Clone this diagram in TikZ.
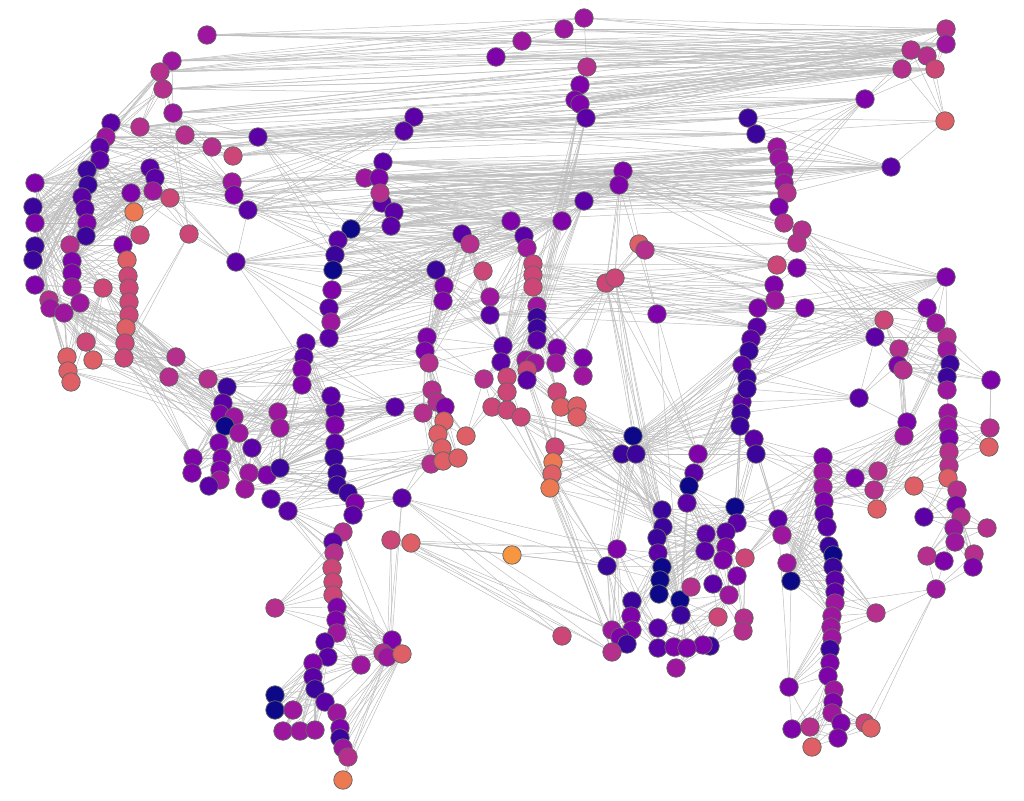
\documentclass[tikz,border=0pt]{standalone}
\usetikzlibrary{backgrounds}
\definecolor{pA}{HTML}{0D0887}
\definecolor{pB}{HTML}{3B049A}
\definecolor{pC}{HTML}{5C01A6}
\definecolor{pD}{HTML}{7E03A8}
\definecolor{pE}{HTML}{9C179E}
\definecolor{pF}{HTML}{B52F8C}
\definecolor{pG}{HTML}{CC4778}
\definecolor{pH}{HTML}{DE5F65}
\definecolor{pI}{HTML}{ED7953}
\definecolor{pJ}{HTML}{F89540}
\newcommand\EdgesX[2]{\foreach \a in {#1}{\foreach \b in {#2}{\draw[ed] (\a)--(\b);}}}
\newcommand\ChainE[1]{\foreach \a/\b in {#1}{\draw[ed] (\a)--(\b);}}
\tikzset{nd/.style={circle,draw=black!60,line width=0.75pt,minimum size=18.5pt,inner sep=0pt},
ed/.style={draw=black!26,line width=0.5pt}}
\begin{document}
\begin{tikzpicture}[x=1pt,y=-1pt]
\useasboundingbox (0,0) rectangle (1024,800);
\foreach \n/\x/\y/\c in {
t1/207/35/E, t2/584/18/E, t3/564/29/E, t4/522/41/E, t5/496/57/D, t6/587/67/F, t7/580/85/D, t8/575/100/D, t9/580/104/D, t10/586/118/C, t11/946/29/F, t12/946/44/E, t13/911/50/F, t14/927/56/F, t15/902/69/F, t16/935/69/G, t17/865/99/D, t18/945/121/H, t19/891/167/C,
l1/172/61/E, l2/160/72/F, l3/163/89/F, l4/173/113/E, l5/140/127/F, l6/111/123/C, l7/106/137/E, l8/100/147/C, l9/100/160/C, l10/87/170/B, l11/88/185/B, l12/82/197/C, l13/85/209/C, l14/87/223/D, l15/86/236/B, l16/35/183/D, l17/33/207/B, l18/35/223/D, l19/35/246/B, l20/33/260/B, l21/35/285/D, l22/70/245/F, l23/72/261/D, l24/72/273/D, l25/72/287/E, l26/49/300/F, l27/50/308/E, l28/64/313/E, l29/80/303/E, l30/103/288/G, l31/86/342/G, l32/67/357/H, l33/68/371/H, l34/71/382/H, l35/93/360/H, l36/185/135/F, l37/212/147/F, l38/233/156/G, l39/258/137/C, l40/232/182/E, l41/234/195/D, l42/248/210/C, l43/150/168/C, l44/155/178/C, l45/153/191/E, l46/170/198/G, l47/131/193/D, l48/134/212/I, l49/140/235/G, l50/189/234/G, l51/123/245/D, l52/127/260/H, l53/128/276/G, l54/129/288/G, l55/129/302/G, l56/129/315/G, l57/126/328/H, l58/125/343/G, l59/124/358/G, l60/176/357/F, l61/169/377/F, l62/208/379/F, l63/227/387/B, l64/236/262/C,
m1/414/117/C, m2/404/131/C, m3/383/162/C, m4/365/178/E, m5/379/178/D, m7/382/203/C, m6/380/193/F, m8/394/212/C, m9/391/226/C, m10/351/229/A, m11/338/240/C, m12/335/255/B, m13/333/270/A, m14/332/290/D, m15/329/308/C, m16/331/322/E, m17/329/338/C, m18/306/343/C, m19/304/357/C, m20/302/369/D, m21/302/385/D,
s1/223/403/C, s2/220/414/D, s3/234/417/E, s4/225/426/A, s5/239/433/E, s6/219/443/D, s7/252/448/C, s8/222/458/D, s9/193/458/D, s10/192/473/D, s11/220/470/D, s12/220/480/E, s13/209/486/C, s14/249/473/E, s15/245/489/E, s16/267/475/D, s17/280/468/B, s18/271/499/C, s19/288/511/C, s20/278/412/E, s21/280/428/E, s22/335/410/C, s23/335/425/D, s24/335/443/C, s25/334/458/B, s26/337/473/B, s27/337/485/B, s28/348/493/B, s30/355/503/D, s31/353/515/C, s32/343/532/F, s33/333/542/C, s34/334/553/F, s35/332/568/G, s36/333/582/G, s37/333/595/G, s38/337/607/D, s39/336/620/D, s40/337/633/E, s41/275/608/F, s42/325/642/C, s43/328/657/C, s44/313/663/D, s45/313/677/C, s46/315/689/B, s47/325/702/C, s48/337/713/E, s49/340/728/D, s50/340/738/B, s51/343/748/E, s52/348/757/F, s53/343/780/I, s54/275/695/A, s55/275/710/A, s56/293/710/E, s57/283/731/E, s58/300/731/E, s59/315/730/E, s60/392/640/D, s61/383/653/F, s62/387/657/E, s63/402/654/H, s64/361/665/E, s65/331/396/C, s66/402/498/C, s67/391/540/G, s68/411/543/H, s69/395/407/C,
c1/462/234/C, c2/470/244/F, c3/483/271/G, c4/436/270/B, c5/444/286/D, c6/443/301/D, c7/511/221/D, c8/524/236/C, c9/527/248/E, c10/533/264/G, c11/533/275/G, c12/533/287/G, c13/490/297/E, c14/490/315/C, c15/537/306/E, c16/537/317/B, c17/537/328/B, c18/537/340/C, c19/562/221/D, c20/584/201/C, c21/623/171/D, c22/619/185/D, c23/639/244/H, c24/645/250/F, c25/606/283/G, c26/615/278/G, c27/657/314/D, c28/427/337/D, c29/425/351/D, c30/429/363/F, c31/503/346/C, c32/501/362/C, c33/526/360/E, c34/535/363/E, c35/557/348/D, c36/556/363/E, c37/583/358/D, c38/583/376/E, c39/484/379/F, c40/507/377/G, c41/507/392/G, c42/527/370/G, c43/527/380/C, c44/557/392/G, c45/432/390/F, c46/437/402/F, c47/445/407/D, c48/423/413/F, c49/444/421/H, c50/438/434/H, c51/466/436/H, c52/442/448/H, c53/431/464/F, c54/443/461/H, c55/458/458/H, c56/492/407/G, c57/507/410/G, c58/521/417/G, c59/561/407/H, c60/577/406/H, c61/577/417/H, c62/555/447/G, c63/553/462/I, c64/552/474/H, c65/550/488/I, c66/512/555/J, c67/562/636/G,
r1/633/436/A, r2/622/454/B, r3/636/454/B, r4/698/454/D, r5/694/473/C, r6/689/486/A, r7/687/503/C, r8/662/510/B, r9/663/527/B, r10/657/538/B, r11/658/553/C, r12/662/567/A, r13/660/580/A, r14/659/594/A, r15/617/549/D, r16/607/566/B, r17/632/601/B, r18/631/616/D, r19/632/630/D, r20/612/630/E, r21/620/637/D, r22/627/644/B, r23/612/652/F, r24/658/628/C, r25/658/648/C, r26/674/647/D, r27/676/668/E, r28/680/600/A, r29/681/615/B, r30/735/507/A, r31/737/523/C, r32/706/534/C, r33/726/532/C, r34/705/551/C, r35/726/547/D, r36/723/560/D, r37/745/558/G, r38/737/576/D, r39/713/584/C, r40/691/587/F, r41/729/595/E, r42/718/617/G, r43/744/618/F, r44/743/631/F, r45/710/646/B, r46/703/645/D, r47/687/648/D, r49/742/402/C, r50/741/413/B, r51/740/426/B, r52/754/439/C, r53/756/454/B,
u1/748/118/B, u2/756/134/B, u3/777/147/E, u4/779/158/E, u5/784/171/E, u6/784/183/E, u7/787/193/F, u8/779/207/D, u9/784/223/F, u10/802/230/F, u11/797/243/F, u12/777/265/G, u13/797/268/D, u14/774/285/D, u15/775/300/E, u16/805/308/D, u17/758/308/D, u18/757/327/C, u19/751/339/C, u20/749/351/B, u21/742/365/C, u22/747/378/B, u23/747/389/B, u24/946/277/D, u25/859/398/C,
f1/927/308/D, f2/884/320/G, f3/875/337/C, f4/936/323/E, f5/947/337/F, f6/947/350/E, f7/899/349/F, f8/898/365/D, f9/903/370/F, f10/950/364/B, f11/947/377/B, f12/991/380/D, f13/947/390/E, f14/907/422/D, f15/904/436/E, f16/948/413/E, f17/948/425/E, f18/949/438/D, f19/949/452/F, f20/949/466/F, f21/948/478/H, f22/957/490/F, f23/956/505/D, f24/961/517/F, f25/954/528/E, f26/955/542/E, f27/990/428/F, f28/989/447/H, f29/914/486/H, f30/924/517/C, f31/987/528/F, f32/927/556/F, f33/944/561/D, f34/974/554/F, f35/973/567/D, f36/936/589/E, f37/878/471/F, f38/874/490/F, f39/877/509/H, f40/855/478/D,
v1/823/457/D, v2/823/472/E, v3/823/487/E, v4/824/501/D, v5/824/514/C, v6/827/527/C, v7/778/519/C, v8/782/535/E, v9/829/546/B, v10/833/555/A, v11/833/567/B, v12/835/580/C, v13/835/592/C, v14/787/563/E, v15/791/581/A, v16/835/603/E, v17/832/616/E, v18/831/627/E, v19/832/638/E, v20/830/649/B, v21/830/663/D, v22/828/676/D, v23/834/690/E, v24/833/702/D, v25/832/713/E, v26/841/723/D, v27/838/738/D, v28/876/613/F, v29/789/687/D, v30/792/729/D, v31/810/727/F, v32/812/747/H, v33/865/723/G, v34/871/728/H}
{\node[nd,fill=p\c] (\n) at (\x,\y) {};}
\begin{scope}[on background layer]
% top band
\EdgesX{t1,l1,l2}{t2,t3,t4,t11,t12,t13,t14}
\EdgesX{l3,l4,l5}{t11,t13,t15,t16,t6,t17}
\EdgesX{t4,t5,t6,t7,t8,t9,t10}{t11,t12,t13,t14,t15,t16}
\EdgesX{t2,t3}{t11,t12,t13}
\EdgesX{t18}{t13,t14,t15,t16,t19}
\EdgesX{t17}{t15,t16,t13}
\EdgesX{t11,t12}{t13,t14,t15,t16}
\ChainE{t2/t3,t3/t4,t4/t5,t2/t6,t6/t7,t7/t8,t8/t9,t9/t10}
\EdgesX{m1,m2}{t17,t15,u1,u2,t19,t13}
\EdgesX{l39,l38,l37,l36}{m1,m2,t17,u1,u2,t10,t8}
\EdgesX{l40,l41,l42}{m1,m2,m3,m4,m5,u3,u4,u5,t19}
\EdgesX{m3,m4,m5,m6,m7,m8,m9}{u3,u4,u5,u6,u7,u8,t19,c21,c22}
% left cluster
\EdgesX{l4,l5,l6,l7,l8}{l36,l37,l38,l39,l40,l41}
\EdgesX{l1,l2,l3}{l6,l7,l8,l5,l4}
\EdgesX{l6,l7,l8,l9,l10,l11,l12,l13,l14,l15}{l16,l17,l18,l19,l20,l21,l22,l23,l24}
\EdgesX{l43,l44,l45,l46,l47,l48,l49}{l9,l10,l11,l12,l13,l14,l15,l22,l23,l51}
\EdgesX{l16,l17,l18,l19,l20,l21}{l25,l26,l27,l28,l29,l30}
\EdgesX{l22,l23,l24,l25}{l51,l52,l53,l54,l55}
\EdgesX{l26,l27,l28,l29,l30}{l31,l32,l33,l34,l35,l56,l57,l58}
\EdgesX{l45,l46}{l50}
\EdgesX{l50}{l4,l3,l64,l58,l59}
\ChainE{l51/l52,l52/l53,l53/l54,l54/l55,l55/l56,l56/l57,l57/l58,l58/l59}
\EdgesX{l56,l57,l58,l59}{l60,l61,l62,l63,s1,s9}
\EdgesX{l40,l41,l42,l64}{l43,l44,l45,l47}
\EdgesX{l16,l17,l18}{l40,l41,l43,l44,l36,l37}
\EdgesX{l21,l25,l26,l30}{s1,s2,s6,l60,l61}
\EdgesX{l64}{m10,m11,m12,m13,m14,m15,m16,m17,c4,c5,c1,c8,s22,l42}
\EdgesX{l42,l41,l39}{m10,m11,m12,c7,c8,c19}
\EdgesX{l61,l62,l63}{s2,s3,s4,s5,s20,s21,m18,m19,m20,m21}
\EdgesX{l31,l35,l33}{s1,s2,s4,l60}
% middle column
\ChainE{m1/m2,m2/m3,m3/m4,m3/m5,m5/m6,m6/m7,m7/m8,m8/m9,m9/m10,m10/m11,m11/m12,m12/m13,m13/m14,m14/m15,m15/m16,m16/m17,m17/m18,m18/m19,m19/m20,m20/m21,m21/s65}
\EdgesX{m10,m11,m12,m13,m14,m15,m16,m17}{c1,c2,c4,c5,c6,c7,c8,c9,c19}
\EdgesX{m18,m19,m20,m21}{s6,s7,s8,s17,s22,s23,s24,s69,c28,c29,c30,c13,c14}
\EdgesX{m6,m7,m8,m9}{m10,m11,m12,c1,c7,c19,c20}
% center
\EdgesX{c7,c8,c19,c20}{c21,c22,c1,c2,c9,c10}
\EdgesX{c20,t10,t9}{c15,c16,c17,c18,c12}
\EdgesX{c21,c22}{u8,u9,u10,u11,u12,c25,c26,c27}
\EdgesX{c23,c24}{u12,u13,u14,u15,u24,u11,c25,c26}
\EdgesX{c25,c26}{c33,c35,c37,r1,r8,r9,r12,r4}
\EdgesX{c27}{u16,u17,u18,u24,f1,r4,r28}
\EdgesX{c10,c11,c12,c13,c14}{u12,u14,u15,u17,u18}
\EdgesX{c1,c2,c3,c4,c5,c6}{c13,c14,c28,c29,c30,c31}
\EdgesX{c8,c9,c10,c11,c12}{c13,c14,c15,c16,c31,c32}
\ChainE{c7/c8,c8/c9,c9/c10,c10/c11,c11/c12,c12/c15,c15/c16,c16/c17,c17/c18,c1/c2,c2/c3,c4/c5,c5/c6,c28/c29,c29/c30,c13/c14,c62/c63,c63/c64,c64/c65}
\EdgesX{c15,c16,c17,c18}{c31,c32,c33,c34,c35,c36,c37,c38,c39,c40,c41,c42,c43,c44}
\EdgesX{c28,c29,c30}{c45,c46,c47,c48,c39,c31}
\EdgesX{c45,c46,c47,c48}{c49,c50,c51,c52,c53,c54,c55}
\EdgesX{c39,c40,c41}{c56,c57,c58,c51}
\EdgesX{c42,c43,c44}{c59,c60,c61,c62,c63}
\EdgesX{c59,c60,c61,c62,c63,c64,c65}{r1,r2,r3,r8,r9}
\EdgesX{c56,c57,c58}{r1,r2,r8,c65}
\EdgesX{c58,c64,c65}{r20,r23,r16}
\EdgesX{s66,s67,s68}{r15,r16,r20,r23,c67}
\EdgesX{s66}{c53,c49,s28,s30,s31}
\EdgesX{c53,c52,c54}{s25,s26,s27,s28}
\EdgesX{c66}{s68,r15}
% lower left cluster
\EdgesX{s1,s2,s3,s4,s5,s6,s7,s8}{s9,s10,s11,s12,s13,s14,s15,s16}
\EdgesX{s20,s21,s22,s23,s24,s65,s69}{s1,s3,s5,s7,s16,s17,s14}
\EdgesX{s25,s26,s27,s28}{s14,s15,s16,s17,s18,s19}
\ChainE{s65/s22,s22/s23,s23/s24,s24/s25,s25/s26,s26/s27,s27/s28,s28/s30,s30/s31,s31/s32,s32/s33,s33/s34,s34/s35,s35/s36,s36/s37,s37/s38,s38/s39,s39/s40,s40/s42,s42/s43,s43/s44,s44/s45,s45/s46,s46/s47,s47/s48,s48/s49,s49/s50,s50/s51,s51/s52,s52/s53}
\EdgesX{s18,s19}{s32,s33,s34,s35,s66}
\EdgesX{s41}{s33,s34,s35,s36,s37,s38,s39,s40}
\EdgesX{s36,s37,s38,s39,s40}{s60,s61,s62,s63,s64}
\EdgesX{s42,s43,s44,s45,s46,s47}{s54,s55,s56,s57,s58,s59,s64,s61}
\EdgesX{s62,s63}{s48,s49,s50,s51,s52,s53}
\EdgesX{s60,s62}{s66,s67,s32}
\EdgesX{s20,s21,s17}{c45,c46,c47,c48,s69}
% right-center cluster
\ChainE{u1/u2,u2/u3,u3/u4,u4/u5,u5/u6,u6/u7,u7/u8,u8/u9,u9/u10,u10/u11,u11/u12,u12/u13,u13/u14,u14/u15,u15/u16,u15/u17,u17/u18,u18/u19,u19/u20,u20/u21,u21/u22,u22/u23,u23/r49,r49/r50,r50/r51,r51/r52,r52/r53}
\EdgesX{u3,u4,u5,u6,u7}{t19,t17}
\EdgesX{u1,u2}{t17,t19,t18}
\EdgesX{u10,u11,u13,u16}{u24,f1,f2,f3,f4}
\EdgesX{u17,u18,u19,u20,u21,u22,u23}{f2,f3,u24,u16}
\EdgesX{r1,r2,r3}{r4,r5,r6,r7,r8,r9,r10,r15,r16}
\EdgesX{r49,r50,r51,r52,r53}{r1,r2,r3,r4,r5,r6,r30,r31}
\EdgesX{u19,u20,u21,u22,u23}{r1,r2,r3,r4}
\ChainE{r8/r9,r9/r10,r10/r11,r11/r12,r12/r13,r13/r14,r14/r17,r17/r18,r18/r19,r4/r5,r5/r6,r6/r7,r30/r31}
\EdgesX{r6,r7,r8,r9,r10,r11,r12,r13,r14}{r30,r31,r32,r33,r34,r35,r36,r28,r29}
\EdgesX{r32,r33,r34,r35,r36}{r37,r38,r39,r40,r41}
\EdgesX{r15,r16,r17,r18,r19}{r20,r21,r22,r23,r24,r25,r11,r12,r13}
\EdgesX{r24,r25,r26,r27,r28,r29}{r40,r41,r42,r45,r46,r47}
\EdgesX{r42,r43,r44,r41}{r37,r38,r39,r45}
% right column
\EdgesX{r30,r31,r37,r53,r52}{v1,v2,v3,v7,v8}
\EdgesX{v7,v8,v14,v15}{v1,v2,v3,v4,v5,v6,v9,v10,v11,v12,v13,v16,v17}
\ChainE{v1/v2,v2/v3,v3/v4,v4/v5,v5/v6,v6/v9,v9/v10,v10/v11,v11/v12,v12/v13,v13/v16,v16/v17,v17/v18,v18/v19,v19/v20,v20/v21,v21/v22,v22/v23,v23/v24,v24/v25,v25/v26,v26/v27}
\EdgesX{v29}{v15,v16,v17,v18,v19,v20,v21,v22,v30,v31,v7}
\EdgesX{v30,v31,v32}{v22,v23,v24,v25,v26,v27}
\EdgesX{v33,v34}{f36,v24,v26,v27,v25}
\EdgesX{v28}{v9,v10,v11,v12,v13,v16,v17,v18}
\EdgesX{f36}{f32,f33,f34,f35,v16,v19}
\EdgesX{v1,v2,v3,v4}{f37,f38,f39,f40,f29,f14,f15}
\EdgesX{f37,f38,f39,f40}{f14,f15,f16,f17,f18,f19}
% far right
\EdgesX{f1,f2,f3,f4}{f5,f6,f7,f8,f9,f10}
\EdgesX{f5,f6,f7,f8,f9}{f10,f11,f12,f13,f14,f15}
\ChainE{f16/f17,f17/f18,f18/f19,f19/f20,f20/f21,f21/f22,f22/f23,f23/f24,f24/f25,f25/f26,f11/f13,f13/f16,f1/f4,f2/f3}
\EdgesX{f27,f28}{f16,f17,f18,f19,f20,f12}
\EdgesX{f29,f30}{f20,f21,f22,f23,f24,f25}
\EdgesX{f31,f32,f33,f34,f35}{f23,f24,f25,f26}
\EdgesX{u25}{f3,f7,f8,f14,u21,u22,u23,r49,r50}
\EdgesX{u24}{f1,f4,f5,u13,u16}
\end{scope}
\end{tikzpicture}
\end{document}
